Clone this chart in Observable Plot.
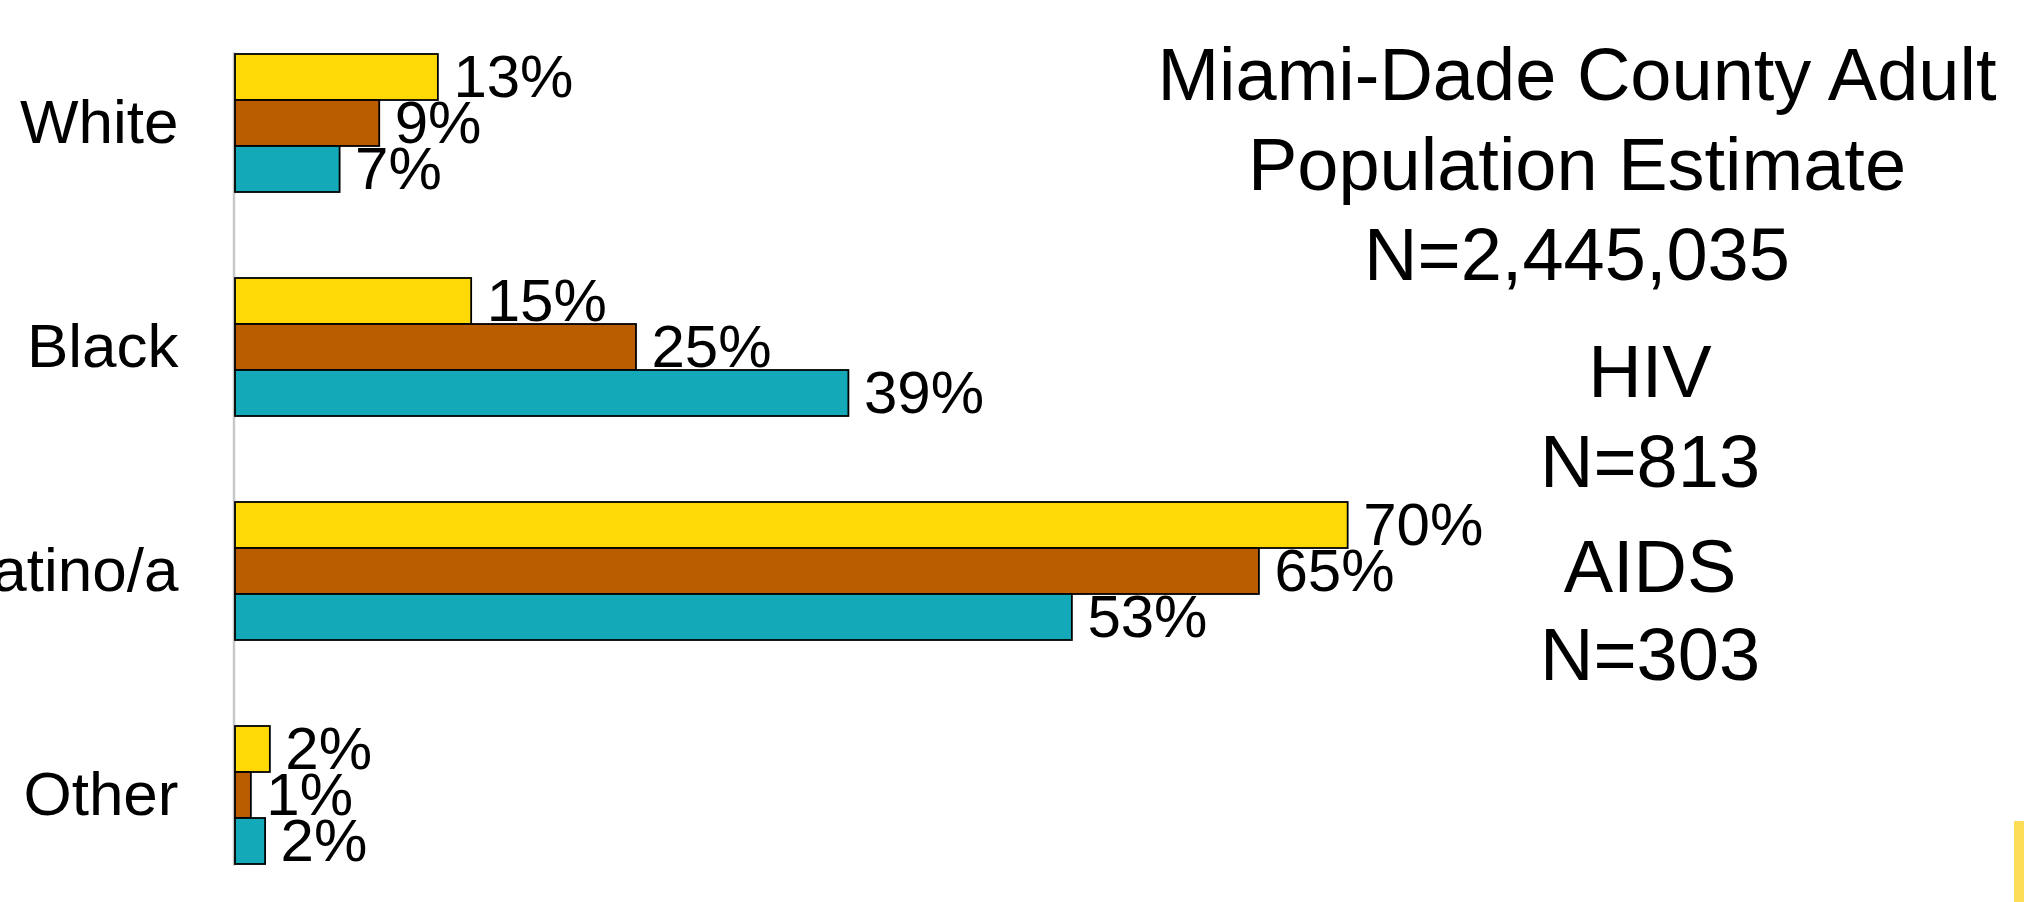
<!DOCTYPE html>
<html>
<head>
<meta charset="utf-8">
<script src="https://cdn.jsdelivr.net/npm/d3@7"></script>
<script src="https://cdn.jsdelivr.net/npm/@observablehq/plot@0.6"></script>
<style>
  html, body { margin: 0; padding: 0; background: #ffffff; overflow: hidden; }
  #wrap { position: relative; width: 2024px; height: 902px; font-family: "Liberation Sans", Arial, sans-serif; color: #000; }
  #chart { position: absolute; left: 0; top: 0; }
  .note { position: absolute; text-align: center; font-size: 74px; line-height: 90px; white-space: nowrap; }
  #deco { position: absolute; left: 2014px; top: 821px; width: 10px; height: 81px; background: #FDDD55; }
</style>
</head>
<body>
<div id="wrap">
  <div id="chart"></div>
  <div class="note" style="left:1127px; top:30px; width:900px;">Miami-Dade County Adult<br>Population Estimate<br>N=2,445,035</div>
  <div class="note" style="left:1350px; top:327px; width:600px;">HIV</div>
  <div class="note" style="left:1350px; top:417px; width:600px;">N=813</div>
  <div class="note" style="left:1350px; top:522px; width:600px;">AIDS</div>
  <div class="note" style="left:1350px; top:610px; width:600px;">N=303</div>
  <div id="deco"></div>
</div>
<script>
const categories = ["White", "Black", "Latino/a", "Other"];
const seriesNames = ["Population Estimate", "HIV", "AIDS"];
// values; labels show rounded percentages
const populationValues = [12.8, 14.9, 70.2, 2.2];
const hivValues = [9.1, 25.3, 64.6, 1.0];
const aidsValues = [6.6, 38.7, 52.8, 1.9];
const seriesColors = ["#FED905", "#BA5C00", "#14A9B8"];

const seriesValues = [populationValues, hivValues, aidsValues];
const data = [];
categories.forEach((c, i) => {
  seriesNames.forEach((s, j) => {
    data.push({category: c, series: s, value: seriesValues[j][i]});
  });
});

const chart = Plot.plot({
  width: 2024,
  height: 902,
  marginTop: 8,
  marginBottom: 0,
  marginLeft: 235,
  marginRight: 204,
  style: {fontFamily: "'Liberation Sans', Arial, sans-serif", color: "#000", background: "transparent"},
  x: {domain: [0, 100], axis: null},
  y: {domain: seriesNames, padding: 0, axis: null},
  fy: {domain: categories, paddingInner: 0.3775, paddingOuter: 0.176, align: 0.54},
  color: {domain: seriesNames, range: seriesColors},
  marks: [
    Plot.frame({anchor: "left", stroke: "#c8c8c8", strokeWidth: 2.5, dx: -1.5, facet: "super"}),
    Plot.barX(data, {x: "value", y: "series", fy: "category", fill: "series", stroke: "#000", strokeWidth: 1.8}),
    Plot.text(data, {x: "value", y: "series", fy: "category", text: d => Math.round(d.value) + "%", textAnchor: "start", dx: 15, fontSize: 60, fill: "#000"}),
    Plot.axisFy({anchor: "left", tickSize: 0, tickPadding: 57, fontSize: 62, label: null})
  ]
});
document.getElementById("chart").appendChild(chart);
</script>
</body>
</html>
